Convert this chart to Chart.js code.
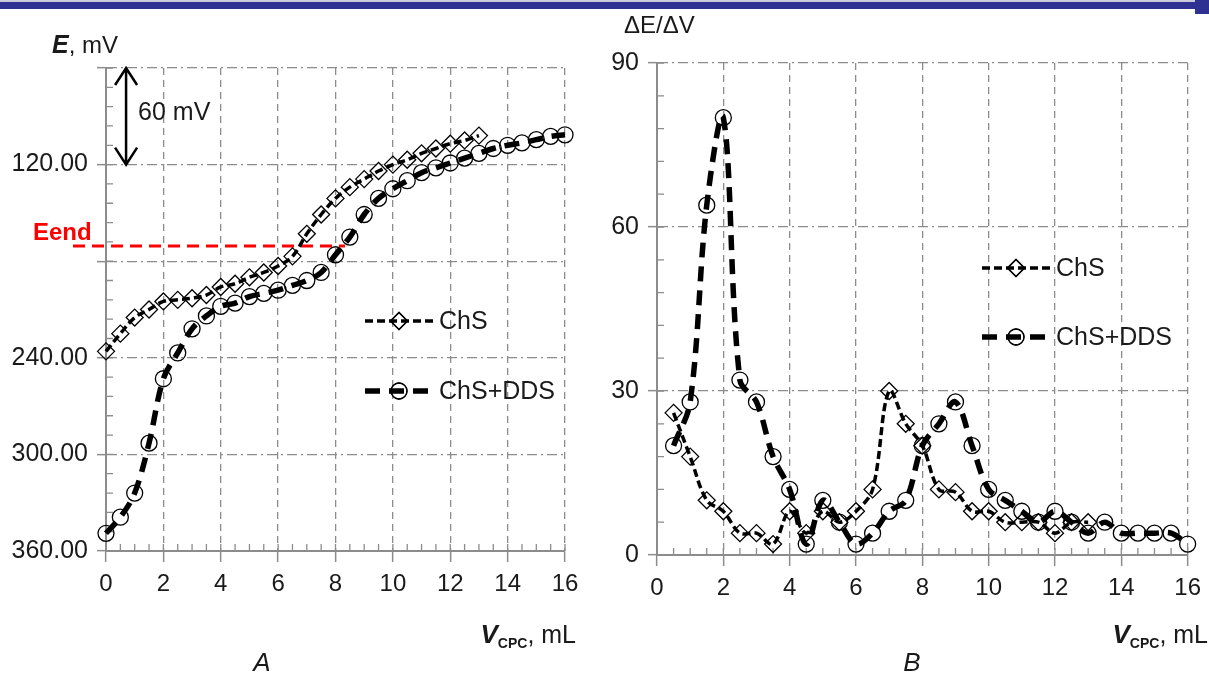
<!DOCTYPE html>
<html>
<head>
<meta charset="utf-8">
<script src="https://cdn.jsdelivr.net/npm/chart.js@4.4.1/dist/chart.umd.min.js"></script>
<style>
  body { margin: 0; background: #fff; }
  #page { position: relative; width: 1209px; height: 675px; overflow: hidden; background: #fff; }
  .box { position: absolute; top: 0; height: 675px; }
  .barline { position: absolute; left: 0; top: 0; width: 1209px; height: 2px; background: #c9cadb; }
  .bar { position: absolute; left: 0; top: 2px; width: 1209px; height: 7px; background: #2e3192; }
  .corner { position: absolute; right: 0; top: 0; width: 14px; height: 14px; background: #2e3192; }
</style>
</head>
<body>
<div id="page">
  <div class="box" style="left:0;width:604px"><canvas id="chartA" width="604" height="675"></canvas></div>
  <div class="box" style="left:604px;width:605px"><canvas id="chartB" width="605" height="675"></canvas></div>
  <div class="barline"></div>
  <div class="bar"></div>
  <div class="corner"></div>
</div>
<script>
const FONT = "'Liberation Sans', Arial, sans-serif";
const GRID = '#8c8c8c';
const INK = '#1a1a1a';

// panel A: titration curves E (mV) vs V_CPC (mL)
const volA_chs = [0,0.5,1,1.5,2,2.5,3,3.5,4,4.5,5,5.5,6,6.5,7,7.5,8,8.5,9,9.5,10,10.5,11,11.5,12,12.5,13];
const eA_chs = [236,225,215,210,205,204,203,201,196,194,190,187,183,177,163,151,141,134,129,124,120,117,113,110,107,105,102];
const volA_dds = [0,0.5,1,1.5,2,2.5,3,3.5,4,4.5,5,5.5,6,6.5,7,7.5,8,8.5,9,9.5,10,10.5,11,11.5,12,12.5,13,13.5,14,14.5,15,15.5,16];
const eA_dds = [349,339,324,293,253,237,222,214,208,206,202,200,198,195,192,187,176,165,151,141,135,130,125,122,119,116,113,110,108,106.5,104.5,102.5,101.5];
const yLabelsA = [120, 240, 300, 360];
const eEnd = 170.5;          // Eend level, mV
const eEndSpan = [-1.15, 8.33];
const arrowVol = 0.7;        // the "60 mV" scale arrow
const arrowSpan = [60, 120];

// panel B: first derivative dE/dV
const volB_chs = [0.5,1,1.5,2,2.5,3,3.5,4,4.5,5,5.5,6,6.5,7,7.5,8,8.5,9,9.5,10,10.5,11,11.5,12,12.5,13];
const dB_chs = [26,18,10,8,4,4,2,8,4,8,6,8,12,30,24,20,12,11.5,8,8,6,6,6,4,6,6];
const volB_dds = [0.5,1,1.5,2,2.5,3,3.5,4,4.5,5,5.5,6,6.5,7,7.5,8,8.5,9,9.5,10,10.5,11,11.5,12,12.5,13,13.5,14,14.5,15,15.5,16];
const dB_dds = [20,28,64,80,32,28,18,12,2,10,6,2,4,8,10,20,24,28,20,12,10,8,6,8,6,4,6,4,4,4,4,2];

const CHS_STYLE = { width: 3.5, dash: [8, 4], marker: 'rectRot', r: 8.5 };
const DDS_STYLE = { width: 5.5, dash: [15, 9], marker: 'circle', r: 8 };

function lineDs(label, xs, ys, st) {
  return {
    label: label,
    data: xs.map((v, i) => ({ x: v, y: ys[i] })),
    borderColor: '#000',
    borderWidth: st.width,
    borderDash: st.dash,
    pointStyle: st.marker,
    pointRadius: st.r,
    pointBorderWidth: 1.3,
    pointBorderColor: '#000',
    pointBackgroundColor: 'rgba(255,255,255,0)',
    tension: 0.35,
    fill: false,
    clip: false
  };
}

function makeScales(yMin, yMax, yStep, reverse, yWidth, yLabel) {
  return {
    x: {
      type: 'linear', min: 0, max: 16,
      ticks: { stepSize: 2, font: { family: FONT, size: 24 }, color: INK, padding: 8, maxRotation: 0, autoSkip: false },
      grid: { color: GRID, lineWidth: 1.3, tickLength: 11, tickColor: GRID, tickWidth: 1.5 },
      border: { color: GRID, width: 2, dash: [7, 5] },
      afterFit: s => { s.height = 40; }
    },
    y: {
      type: 'linear', min: yMin, max: yMax, reverse: reverse,
      ticks: { stepSize: yStep, font: { family: FONT, size: 25 }, color: INK, padding: 9, callback: yLabel },
      grid: { color: GRID, lineWidth: 1.3, tickLength: 9, tickColor: GRID, tickWidth: 1.5 },
      border: { color: GRID, width: 2, dash: [10, 4, 2, 4] },
      afterFit: s => { s.width = yWidth; }
    }
  };
}

function minorTicks(chart, xStep, yStep) {
  const { ctx, chartArea: a, scales: { x, y } } = chart;
  ctx.save();
  ctx.strokeStyle = GRID;
  ctx.lineWidth = 1.3;
  ctx.beginPath();
  for (let v = x.min; v <= x.max + 1e-9; v += xStep) {
    const px = x.getPixelForValue(v);
    ctx.moveTo(px, a.bottom);
    ctx.lineTo(px, a.bottom - 7);
  }
  const lo = Math.min(y.min, y.max), hi = Math.max(y.min, y.max);
  for (let v = lo; v <= hi + 1e-9; v += yStep) {
    const py = y.getPixelForValue(v);
    ctx.moveTo(a.left, py);
    ctx.lineTo(a.left + 7, py);
  }
  ctx.stroke();
  ctx.restore();
}

function legendItem(ctx, x0, yc, st, text) {
  ctx.save();
  ctx.strokeStyle = '#000';
  ctx.lineWidth = st.width;
  ctx.setLineDash(st.dash);
  ctx.beginPath();
  ctx.moveTo(x0, yc);
  ctx.lineTo(x0 + 68, yc);
  ctx.stroke();
  ctx.setLineDash([]);
  ctx.lineWidth = 1.3;
  ctx.fillStyle = 'rgba(255,255,255,0)';
  Chart.helpers.drawPoint(ctx, { pointStyle: st.marker, radius: st.r, rotation: 0, borderWidth: 1.3 }, x0 + 34, yc);
  ctx.stroke();
  ctx.fillStyle = INK;
  ctx.font = '25px ' + FONT;
  ctx.textBaseline = 'middle';
  ctx.textAlign = 'left';
  ctx.fillText(text, x0 + 74, yc + 1);
  ctx.restore();
}

// draws a run of differently styled pieces, e.g. V with a CPC subscript
function richText(ctx, parts, x, y, align) {
  ctx.save();
  ctx.textBaseline = 'alphabetic';
  ctx.textAlign = 'left';
  let total = 0;
  parts.forEach(p => { ctx.font = p.font; total += ctx.measureText(p.t).width; });
  let cx = align === 'right' ? x - total : (align === 'center' ? x - total / 2 : x);
  parts.forEach(p => {
    ctx.font = p.font;
    ctx.fillStyle = p.color || INK;
    ctx.fillText(p.t, cx, y + (p.dy || 0));
    cx += ctx.measureText(p.t).width;
  });
  ctx.restore();
}

function vTitle(ctx, xRight) {
  richText(ctx, [
    { t: 'V', font: 'italic bold 26px ' + FONT },
    { t: 'CPC', font: 'bold 14px ' + FONT, dy: 5 },
    { t: ', mL', font: '25px ' + FONT }
  ], xRight, 643, 'right');
}

const decorA = {
  id: 'decorA',
  beforeDatasetsDraw(chart) { minorTicks(chart, 0.5, 12); },
  afterDraw(chart) {
    const { ctx, chartArea: a, scales: { x, y } } = chart;
    // 60 mV arrow
    const ax = x.getPixelForValue(arrowVol);
    const y1 = y.getPixelForValue(arrowSpan[0]);
    const y2 = y.getPixelForValue(arrowSpan[1]);
    ctx.save();
    ctx.strokeStyle = '#000';
    ctx.lineWidth = 2.5;
    ctx.beginPath();
    ctx.moveTo(ax, y1); ctx.lineTo(ax, y2);
    ctx.moveTo(ax - 11, y1 + 17); ctx.lineTo(ax, y1); ctx.lineTo(ax + 11, y1 + 17);
    ctx.moveTo(ax - 11, y2 - 17); ctx.lineTo(ax, y2); ctx.lineTo(ax + 11, y2 - 17);
    ctx.stroke();
    ctx.restore();
    richText(ctx, [{ t: '60 mV', font: '25px ' + FONT }], ax + 12, 120, 'left');
    richText(ctx, [{ t: 'Eend', font: 'bold 24px ' + FONT, color: '#ff0000' }], 33, 240, 'left');
    legendItem(ctx, a.left + 259, 321, CHS_STYLE, 'ChS');
    legendItem(ctx, a.left + 259, 391, DDS_STYLE, 'ChS+DDS');
    richText(ctx, [
      { t: 'E', font: 'italic bold 25px ' + FONT },
      { t: ', mV', font: '24px ' + FONT }
    ], 52, 53, 'left');
    vTitle(ctx, 576);
    richText(ctx, [{ t: 'A', font: 'italic 26px ' + FONT }], 262, 671, 'center');
  }
};

const decorB = {
  id: 'decorB',
  beforeDatasetsDraw(chart) { minorTicks(chart, 0.5, 6); },
  afterDraw(chart) {
    const { ctx, chartArea: a } = chart;
    legendItem(ctx, a.left + 325, 268, CHS_STYLE, 'ChS');
    legendItem(ctx, a.left + 325, 337, DDS_STYLE, 'ChS+DDS');
    richText(ctx, [{ t: '\u0394E/\u0394V', font: '24px ' + FONT }], 20, 33, 'left');
    vTitle(ctx, 604);
    richText(ctx, [{ t: 'B', font: 'italic 26px ' + FONT }], 308, 671, 'center');
  }
};

const common = {
  responsive: false,
  animation: false,
  events: [],
  plugins: { legend: { display: false }, tooltip: { enabled: false } }
};

new Chart(document.getElementById('chartA'), {
  type: 'line',
  data: {
    datasets: [
      lineDs('ChS', volA_chs, eA_chs, CHS_STYLE),
      lineDs('ChS+DDS', volA_dds, eA_dds, DDS_STYLE),
      {
        label: 'Eend',
        data: [{ x: eEndSpan[0], y: eEnd }, { x: eEndSpan[1], y: eEnd }],
        borderColor: '#ff0000', borderWidth: 3, borderDash: [12, 7],
        pointRadius: 0, fill: false, clip: false
      }
    ]
  },
  options: Object.assign({}, common, {
    layout: { padding: { left: 0, top: 68, right: 39, bottom: 84 } },
    scales: makeScales(60, 360, 60, true, 106, v => yLabelsA.includes(v) ? v.toFixed(2) : '')
  }),
  plugins: [decorA]
});

new Chart(document.getElementById('chartB'), {
  type: 'line',
  data: {
    datasets: [
      lineDs('ChS', volB_chs, dB_chs, CHS_STYLE),
      lineDs('ChS+DDS', volB_dds, dB_dds, DDS_STYLE)
    ]
  },
  options: Object.assign({}, common, {
    layout: { padding: { left: 0, top: 63, right: 21, bottom: 80 } },
    scales: makeScales(0, 90, 30, false, 53, v => String(v))
  }),
  plugins: [decorB]
});
</script>
</body>
</html>
